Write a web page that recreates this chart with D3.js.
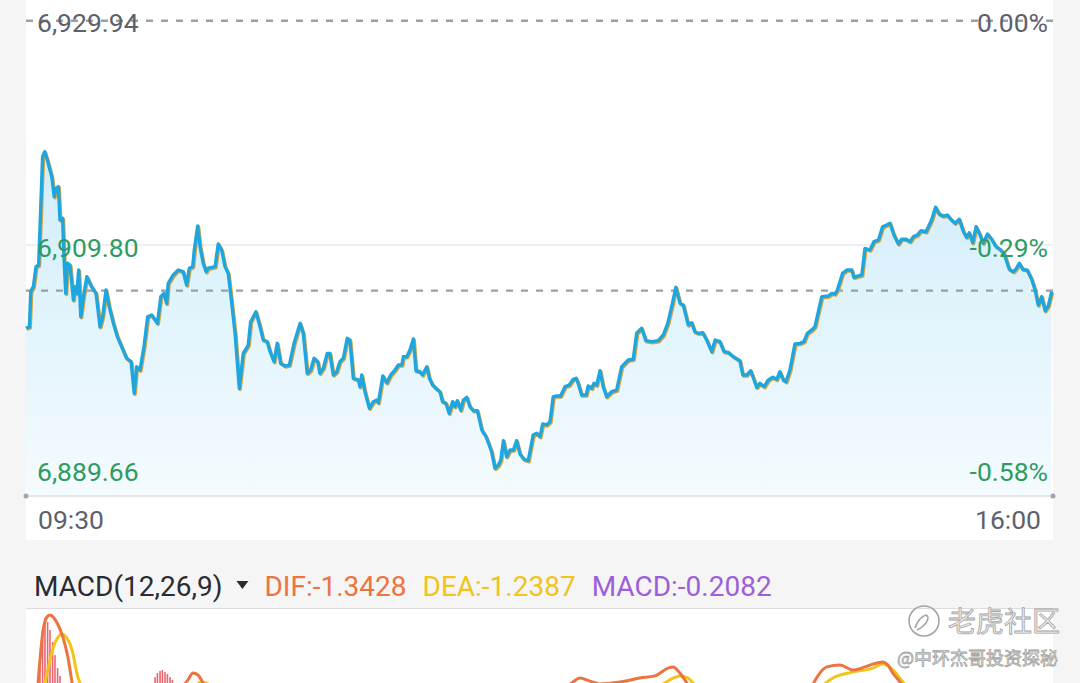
<!DOCTYPE html>
<html>
<head>
<meta charset="utf-8">
<script src="https://cdn.jsdelivr.net/npm/d3@7"></script>
<style>
  html, body { margin: 0; padding: 0; background: #f5f5f6; }
  svg { display: block; font-family: Roboto, "Noto Sans", sans-serif; }
</style>
</head>
<body>
<div id="chart"></div>
<script>
// intraday price: minutes after 09:30 and last price
var minutes = [
  0, 1.3, 1.8, 2.8, 3.8, 4.8, 6.3, 7.1, 8.1, 9.8,
  10.7, 11.4, 12.3, 12.9, 13.9, 14.4, 15.1, 15.7, 16.7, 18.0,
  18.6, 19.3, 20.0, 20.8, 21.8, 23.1, 24.9, 26.6, 28.1, 29.1,
  30.4, 31.6, 33.2, 34.7, 36.3, 38.2, 39.9, 41.1, 42.0, 43.3,
  44.8, 46.2, 47.7, 49.9, 51.2, 52.4, 53.4, 54.0, 55.9, 57.8,
  59.7, 61.0, 62.0, 63.3, 63.9, 65.2, 66.1, 67.3, 68.4, 69.2,
  71.8, 73.0, 74.3, 75.6, 76.8, 77.7, 79.4, 81.0, 82.5, 84.4,
  85.3, 87.3, 88.9, 90.1, 91.6, 92.7, 94.2, 95.4, 96.7, 98.4,
  100.0, 101.8, 104.1, 105.3, 106.8, 108.1, 109.4, 110.8, 111.6, 112.9,
  114.4, 115.4, 116.7, 118.0, 119.2, 120.5, 122.0, 123.0, 124.3, 126.2,
  126.8, 127.5, 128.7, 130.4, 131.9, 133.2, 133.8, 135.5, 137.0, 138.5,
  140.1, 141.4, 142.7, 143.3, 144.6, 145.8, 147.1, 148.1, 149.6, 150.6,
  152.2, 153.2, 154.4, 155.7, 157.2, 158.2, 159.5, 160.7, 162.0, 162.9,
  163.8, 165.1, 166.1, 167.4, 168.6, 169.9, 171.4, 173.1, 174.7, 175.9,
  176.8, 178.1, 179.4, 180.3, 181.3, 182.5, 183.8, 185.1, 186.3, 187.6,
  189.1, 190.7, 192.6, 193.9, 195.2, 196.2, 197.7, 199.0, 200.2, 201.5,
  203.0, 204.7, 206.3, 207.8, 208.9, 209.7, 211.0, 212.7, 213.5, 214.8,
  215.7, 216.7, 218.0, 219.2, 220.5, 222.4, 224.3, 226.2, 227.5, 228.7,
  230.6, 231.9, 233.8, 235.4, 237.6, 240.1, 242.0, 243.7, 245.2, 246.8,
  248.4, 249.6, 251.5, 252.8, 254.0, 255.3, 257.0, 258.5, 260.4, 261.7,
  263.5, 265.1, 266.7, 268.6, 271.1, 272.2, 273.7, 275.2, 276.5, 277.5,
  278.7, 280.3, 281.9, 283.6, 285.1, 286.3, 287.6, 288.6, 290.1, 292.0,
  293.9, 295.4, 296.7, 298.4, 299.6, 302.2, 304.7, 306.0, 307.2, 308.1,
  310.1, 311.7, 313.6, 314.4, 316.1, 317.4, 318.6, 320.5, 322.0, 323.7,
  325.3, 326.8, 328.1, 329.6, 331.3, 332.5, 334.2, 335.7, 337.0, 338.5,
  339.8, 341.8, 343.9, 345.4, 346.8, 348.3, 349.9, 351.2, 352.8, 354.4,
  356.0, 357.2, 358.2, 359.5, 360.8, 362.3, 363.5, 365.1, 366.7, 368.4,
  369.9, 371.4, 373.4, 374.9, 375.9, 377.2, 378.5, 380.2, 381.9, 383.2,
  384.4, 385.7, 387.0, 388.2, 389.5
];
var prices = [
  6902.32, 6902.46, 6905.61, 6906.06, 6907.85, 6908.00, 6917.73, 6918.18, 6917.43, 6915.93,
  6914.14, 6914.89, 6915.04, 6912.05, 6912.20, 6908.75, 6905.46, 6908.16, 6908.00, 6904.86,
  6906.06, 6905.46, 6907.55, 6903.36, 6905.16, 6906.95, 6906.06, 6905.46, 6902.46, 6903.36,
  6905.76, 6904.26, 6902.77, 6901.57, 6900.67, 6899.63, 6899.32, 6896.48, 6898.87, 6898.57,
  6900.67, 6903.36, 6903.51, 6902.77, 6905.16, 6905.46, 6904.56, 6906.36, 6907.11, 6907.55,
  6907.40, 6906.21, 6907.71, 6907.85, 6909.35, 6911.51, 6909.65, 6908.16, 6907.40, 6907.71,
  6907.85, 6909.89, 6909.35, 6907.85, 6907.26, 6905.46, 6901.87, 6896.93, 6900.07, 6900.82,
  6902.91, 6903.81, 6902.46, 6901.27, 6901.12, 6900.22, 6899.32, 6900.97, 6899.18, 6898.93,
  6899.02, 6900.97, 6902.77, 6901.87, 6898.28, 6898.57, 6899.63, 6899.32, 6898.28, 6898.73,
  6900.07, 6900.07, 6898.13, 6898.42, 6899.32, 6899.63, 6901.42, 6901.27, 6897.83, 6897.68,
  6897.08, 6898.13, 6896.63, 6895.14, 6895.73, 6895.88, 6895.64, 6898.04, 6897.43, 6898.13,
  6898.57, 6899.02, 6899.02, 6899.77, 6899.77, 6900.37, 6901.36, 6898.51, 6898.42, 6898.13,
  6898.87, 6897.83, 6897.23, 6896.93, 6896.63, 6895.73, 6895.58, 6894.69, 6895.73, 6895.28,
  6895.82, 6894.98, 6895.88, 6896.12, 6895.28, 6894.92, 6894.92, 6893.19, 6892.59, 6891.84,
  6891.24, 6889.75, 6890.04, 6890.49, 6892.23, 6890.79, 6891.39, 6891.39, 6892.23, 6891.03,
  6890.56, 6890.43, 6892.74, 6892.89, 6892.59, 6893.73, 6893.64, 6893.93, 6896.18, 6896.24,
  6896.24, 6897.08, 6897.23, 6897.74, 6897.83, 6897.38, 6896.33, 6896.33, 6897.14, 6896.93,
  6897.38, 6897.23, 6898.51, 6897.08, 6896.18, 6896.63, 6896.78, 6898.87, 6899.18, 6899.47,
  6899.54, 6901.87, 6902.32, 6901.21, 6901.12, 6901.21, 6901.72, 6902.77, 6904.26, 6906.00,
  6904.56, 6904.41, 6902.62, 6902.82, 6902.01, 6901.87, 6901.92, 6901.27, 6900.22, 6901.27,
  6901.12, 6900.22, 6900.16, 6899.77, 6899.41, 6898.13, 6898.13, 6898.51, 6897.68, 6897.02,
  6897.38, 6897.08, 6897.68, 6897.92, 6897.74, 6898.42, 6897.68, 6897.52, 6898.57, 6900.91,
  6900.97, 6901.12, 6901.87, 6902.17, 6902.46, 6905.16, 6905.22, 6905.46, 6905.40, 6905.76,
  6907.26, 6907.55, 6907.55, 6906.90, 6907.02, 6907.11, 6909.50, 6909.35, 6910.10, 6910.25,
  6911.44, 6911.60, 6911.75, 6910.70, 6909.89, 6910.31, 6910.31, 6910.10, 6910.55, 6910.70,
  6911.08, 6910.99, 6912.05, 6913.19, 6912.58, 6912.40, 6912.49, 6912.11, 6911.75, 6912.11,
  6910.99, 6910.49, 6910.90, 6910.01, 6911.44, 6910.70, 6909.95, 6910.79, 6910.31, 6909.65,
  6909.41, 6909.05, 6907.62, 6907.40, 6907.62, 6908.16, 6907.62, 6907.55, 6906.72, 6905.76,
  6904.41, 6905.16, 6903.90, 6904.32, 6905.61
];
var refPrice = 6905.70;
var priceTicks = [6929.94, 6909.80, 6889.66];
var pctTicks = ["0.00%", "-0.29%", "-0.58%"];
var timeTicks = [0, 390];
var timeLabels = ["09:30", "16:00"];

// MACD(12,26,9) panel
var difTime = [0, 3.8, 4.6, 5.3, 6.5, 8.0, 9.1, 10.6, 12.2, 14.0, 15.9, 17.5, 19.7, 28, 40, 50, 58.5, 61.5, 63.4, 65.3,
  67.2, 69.9, 80, 120, 160, 195, 205, 207.7, 210.4, 214.2, 218, 225.5, 233.1, 238.8, 243.8, 245.7, 248.3, 251, 254, 263.5,
  278.7, 293.9, 297.7, 300.4, 304.1, 309.1, 314, 318.6, 321.6, 325.4, 327.3, 329.2, 331.9, 335.7, 350.9, 390];
var difVals = [-3.0, -1.56, 0, 0.97, 2.24, 2.79, 2.87, 2.75, 2.45, 1.94, 1.10, 0, -1.56, -2.4, -1.8, -1.0, -0.30, 0.13, 0.42, 0.34,
  0, -0.72, -2.5, -3.0, -2.6, -1.0, -0.2, 0.04, 0.21, 0.08, -0.04, 0.04, 0.21, 0.30, 0.63, 0.68, 0.42, 0, -0.5, -1.56,
  -2.0, -1.14, -0.30, 0.25, 0.68, 0.76, 0.55, 0.68, 0.80, 0.89, 0.76, 0.42, 0.04, -0.72, -1.9, -1.3428];
var deaTime = [0, 7.2, 9.1, 11.0, 12.5, 13.7, 14.8, 17.5, 19.7, 20.5, 24.3, 40, 60, 64.2, 66.1, 68.3, 75, 120, 180, 210,
  233.1, 242.6, 245.7, 248.3, 251.4, 253.3, 259.7, 280, 299.6, 304.1, 306.4, 314, 321.6, 325.4, 329.2, 333, 337.6, 390];
var deaVals = [-2.5, 0, 0.97, 1.69, 1.99, 2.07, 1.99, 1.39, 0.25, 0, -0.93, -2.0, -1.2, -0.3, 0.04, 0, -0.6, -2.5, -2.3, -0.5,
  -0.3, 0, 0.21, 0.30, 0.21, 0, -0.72, -1.8, -0.5, 0.04, 0.21, 0.46, 0.63, 0.80, 0.55, 0.04, -0.5, -1.2387];
var histTime = [5.3, 6.3, 7.2, 8.2, 9.1, 10.1, 11.0, 12.0, 12.9, 49.0, 49.9, 50.9, 51.8, 52.8, 53.7, 54.7, 55.6];
var histVals = [0.76, 2.24, 2.75, 2.58, 2.24, 1.73, 1.18, 0.63, 0.30, 0.25, 0.42, 0.51, 0.55, 0.46, 0.38, 0.25, 0.13];
var macdTitle = "MACD(12,26,9)";
var macdLegend = ["DIF:-1.3428", "DEA:-1.2387", "MACD:-0.2082"];
var legendColors = ["#ec7440", "#f0c419", "#9d5fd8"];

var W = 1080, H = 683;
var left = 26, right = 1053;
var plotBottom = 496;
var green = "#2e9c62", gray = "#5e616c";

var svg = d3.select("#chart").append("svg")
    .attr("width", W).attr("height", H);

// panels
svg.append("rect").attr("x", left).attr("y", 0).attr("width", right - left).attr("height", 540).attr("fill", "#fff");
svg.append("rect").attr("x", left).attr("y", 609).attr("width", right - left).attr("height", H - 609).attr("fill", "#fff");
svg.append("line").attr("x1", left).attr("x2", right).attr("y1", 608.5).attr("y2", 608.5)
    .attr("stroke", "#dcdcdf").attr("stroke-width", 1);

var x = d3.scaleLinear().domain([0, 390]).range([left, right]);
var y = d3.scaleLinear().domain([6889.66, 6929.94]).range([469.3, 20.7]);

var data = minutes.map(function(m, i) { return {t: m, p: prices[i]}; });

var defs = svg.append("defs");
var grad = defs.append("linearGradient").attr("id", "areaGrad")
    .attr("gradientUnits", "userSpaceOnUse")
    .attr("x1", 0).attr("x2", 0).attr("y1", 150).attr("y2", plotBottom);
grad.append("stop").attr("offset", 0).attr("stop-color", "#d0edfa");
grad.append("stop").attr("offset", 1).attr("stop-color", "#f4fbfe");

// grid lines
svg.append("line").attr("x1", left).attr("x2", right)
    .attr("y1", y(priceTicks[1])).attr("y2", y(priceTicks[1]))
    .attr("stroke", "#dedfe2").attr("stroke-width", 1);

var area = d3.area().x(function(d) { return x(d.t); })
    .y0(plotBottom).y1(function(d) { return y(d.p); });
svg.append("path").datum(data).attr("d", area).attr("fill", "url(#areaGrad)");

svg.append("line").attr("x1", left).attr("x2", right)
    .attr("y1", plotBottom).attr("y2", plotBottom)
    .attr("stroke", "#e4e6ea").attr("stroke-width", 2);
[left, right].forEach(function(cx) {
  svg.append("circle").attr("cx", cx).attr("cy", plotBottom).attr("r", 2.5).attr("fill", "#a3a6ad");
});

// dashed lines: top tick and reference
[priceTicks[0], refPrice].forEach(function(v) {
  svg.append("line").attr("x1", left).attr("x2", right)
      .attr("y1", y(v)).attr("y2", y(v))
      .attr("stroke", "#9c9fa7").attr("stroke-width", 2.4)
      .attr("stroke-dasharray", "7,8");
});

// price line (golden shadow under blue)
var line = d3.line().x(function(d) { return x(d.t); }).y(function(d) { return y(d.p); });
svg.append("path").datum(data).attr("d", line)
    .attr("fill", "none").attr("stroke", "#d9a441").attr("stroke-width", 3.4)
    .attr("stroke-linejoin", "round").attr("transform", "translate(0.9,1.1)");
svg.append("path").datum(data).attr("d", line)
    .attr("fill", "none").attr("stroke", "#1ea6df").attr("stroke-width", 3.4)
    .attr("stroke-linejoin", "round");

// axis labels
priceTicks.forEach(function(v, i) {
  svg.append("text").attr("x", 37).attr("y", y(v) + 11.5)
      .attr("font-size", 26.5).attr("fill", i === 0 ? gray : green).text(d3.format(",.2f")(v));
  svg.append("text").attr("x", 1048).attr("y", y(v) + 11.5).attr("text-anchor", "end")
      .attr("font-size", 26.5).attr("fill", i === 0 ? gray : green).text(pctTicks[i]);
});
timeTicks.forEach(function(t, i) {
  svg.append("text").attr("x", i === 0 ? x(t) + 12 : x(t) - 12).attr("y", 529)
      .attr("text-anchor", i === 0 ? "start" : "end")
      .attr("font-size", 26.5).attr("fill", gray).text(timeLabels[i]);
});

// MACD legend
var lx = 34;
var t0 = svg.append("text").attr("x", lx).attr("y", 596).attr("font-size", 28).attr("fill", "#2a2c33").text(macdTitle);
lx += t0.node().getComputedTextLength() + 20;
svg.append("path").attr("d", "M" + (lx - 6) + ",581 L" + (lx + 6) + ",581 L" + lx + ",589 Z").attr("fill", "#2a2c33");
lx += 22;
macdLegend.forEach(function(s, i) {
  var t = svg.append("text").attr("x", lx).attr("y", 596).attr("font-size", 28)
      .attr("fill", legendColors[i]).text(s);
  lx += t.node().getComputedTextLength() + 16;
});

// MACD chart
defs.append("clipPath").attr("id", "macdClip").append("rect")
    .attr("x", left).attr("y", 609).attr("width", right - left).attr("height", H - 609);
var yM = d3.scaleLinear().domain([-3, 3]).range([754, 612]);
var gM = svg.append("g").attr("clip-path", "url(#macdClip)");

gM.selectAll("rect.bar").data(histTime).enter().append("rect")
    .attr("class", "bar")
    .attr("x", function(t) { return x(t) - 0.8; })
    .attr("width", 1.6)
    .attr("y", function(t, i) { return yM(histVals[i]); })
    .attr("height", function(t, i) { return yM(0) - yM(histVals[i]); })
    .attr("fill", "#ec6670");

var mline = d3.line().curve(d3.curveMonotoneX)
    .x(function(d) { return x(d[0]); }).y(function(d) { return yM(d[1]); });
gM.append("path").datum(deaTime.map(function(t, i) { return [t, deaVals[i]]; }))
    .attr("d", mline).attr("fill", "none").attr("stroke", legendColors[1]).attr("stroke-width", 3);
gM.append("path").datum(difTime.map(function(t, i) { return [t, difVals[i]]; }))
    .attr("d", mline).attr("fill", "none").attr("stroke", legendColors[0]).attr("stroke-width", 3);

// watermark
var wm = svg.append("g").attr("fill", "#eeeeee").attr("stroke", "#a4a4a4").attr("stroke-width", 0.8);
wm.append("circle").attr("cx", 924).attr("cy", 621).attr("r", 15).attr("fill", "none").attr("stroke-width", 1.6);
wm.append("path").attr("d", "M915,628 q4,-11 11,-13 q4,2 0,8 q-4,5 -9,7").attr("fill", "none").attr("stroke-width", 1.6);
wm.append("text").attr("x", 948).attr("y", 632).attr("font-size", 28)
    .attr("font-family", "'Noto Sans CJK SC', sans-serif").text("老虎社区");
wm.append("text").attr("x", 1058).attr("y", 665).attr("text-anchor", "end").attr("font-size", 18)
    .attr("font-family", "'Noto Sans CJK SC', sans-serif").text("@中环杰哥投资探秘");
</script>
</body>
</html>
